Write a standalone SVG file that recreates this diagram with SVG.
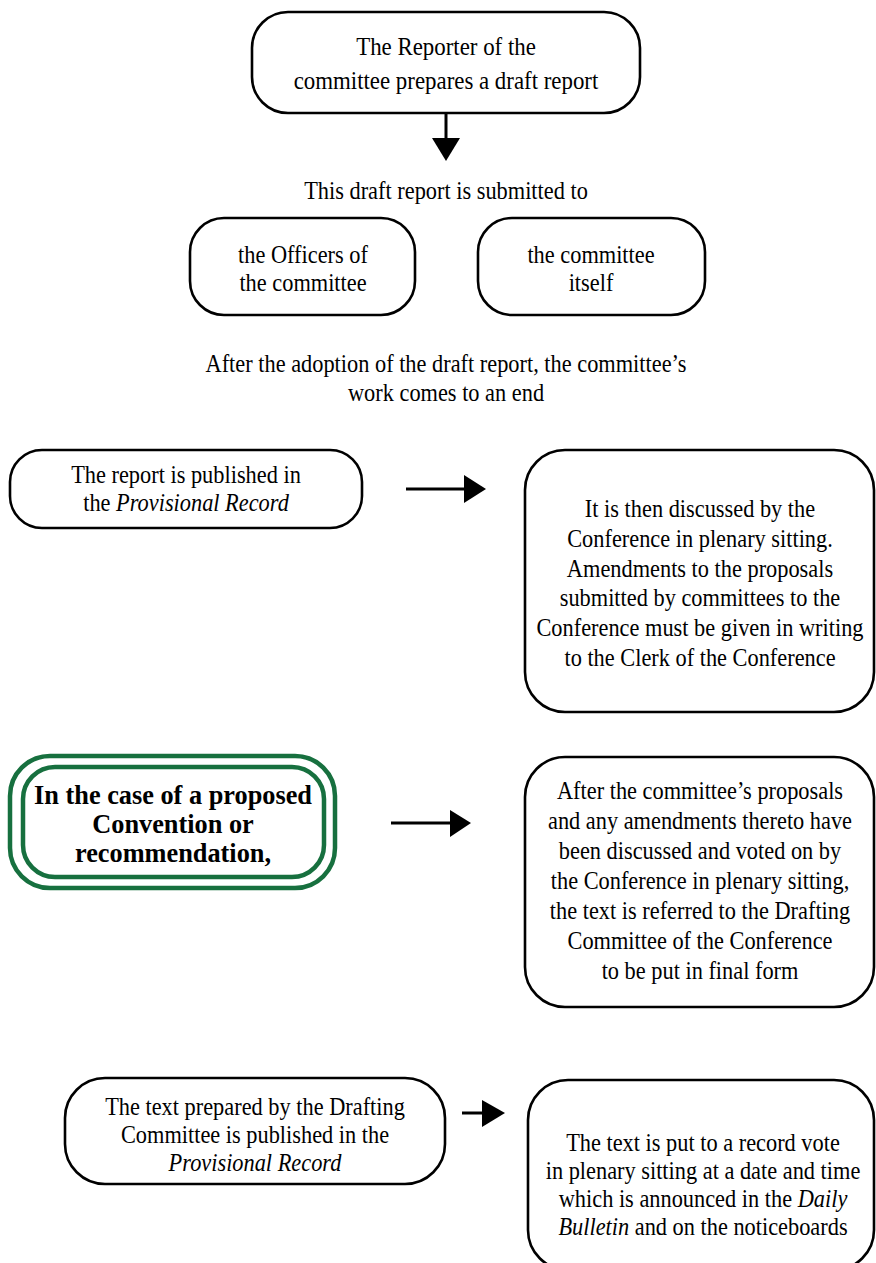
<svg xmlns="http://www.w3.org/2000/svg" width="876" height="1263" viewBox="0 0 876 1263">
<style>
.box{fill:#fff;stroke:#000;stroke-width:2.6}
.g{fill:none;stroke:#17703f;stroke-width:4.5}
.t{font-family:"Liberation Serif",serif;font-size:26px;fill:#000;text-anchor:middle}
.b{font-weight:bold;font-size:28px}
.i{font-style:italic}
.ln{stroke:#000;stroke-width:3;fill:none}
.hd{fill:#000}
</style>
<rect width="876" height="1263" fill="#fff"/>
<g id="connectors">
<line class="ln" x1="446" y1="113" x2="446" y2="140"/>
<polygon class="hd" points="432,138 460,138 446,161"/>
<line class="ln" x1="406" y1="489" x2="466" y2="489"/>
<polygon class="hd" points="464,475 464,503 486,489"/>
<line class="ln" x1="391" y1="823" x2="452" y2="823"/>
<polygon class="hd" points="450,810 450,837 471,823"/>
<line class="ln" x1="462" y1="1113" x2="484" y2="1113"/>
<polygon class="hd" points="482,1100 482,1127 505,1113"/>
</g>
<g id="n1">
<rect class="box" x="252" y="12" width="388" height="101" rx="36"/>
<g transform="translate(446 0) scale(0.88 1)"><text class="t" x="0" y="55">The Reporter of the</text><text class="t" x="0" y="89">committee prepares a draft report</text></g>
</g>
<g id="l1">
<g transform="translate(446 0) scale(0.86 1)"><text class="t" x="0" y="199">This draft report is submitted to</text></g>
</g>
<g id="n2">
<rect class="box" x="190" y="218" width="225" height="97" rx="34"/>
<g transform="translate(303 0) scale(0.86 1)"><text class="t" x="0" y="263">the Officers of</text><text class="t" x="0" y="291">the committee</text></g>
</g>
<g id="n3">
<rect class="box" x="478" y="218" width="227" height="97" rx="34"/>
<g transform="translate(591 0) scale(0.86 1)"><text class="t" x="0" y="263">the committee</text><text class="t" x="0" y="291">itself</text></g>
</g>
<g id="l2">
<g transform="translate(446 0) scale(0.86 1)"><text class="t" x="0" y="372">After the adoption of the draft report, the committee’s</text><text class="t" x="0" y="401">work comes to an end</text></g>
</g>
<g id="n4">
<rect class="box" x="10" y="450" width="352" height="78" rx="32"/>
<g transform="translate(186 0) scale(0.86 1)"><text class="t" x="0" y="483">The report is published in</text><text class="t" x="0" y="511">the <tspan class="i">Provisional Record</tspan></text></g>
</g>
<g id="n5">
<rect class="box" x="525" y="450" width="349" height="262" rx="40"/>
<g transform="translate(700 0) scale(0.86 1)">
<text class="t" x="0" y="517">It is then discussed by the</text>
<text class="t" x="0" y="547">Conference in plenary sitting.</text>
<text class="t" x="0" y="577">Amendments to the proposals</text>
<text class="t" x="0" y="606">submitted by committees to the</text>
<text class="t" x="0" y="636">Conference must be given in writing</text>
<text class="t" x="0" y="666">to the Clerk of the Conference</text>
</g>
</g>
<g id="n6">
<rect x="10" y="756" width="325" height="132" rx="40" fill="#fff"/>
<rect class="g" x="10" y="756" width="325" height="132" rx="40"/>
<rect class="g" x="23" y="767" width="301" height="110" rx="32"/>
<g transform="translate(173 0) scale(0.94 1)">
<text class="t b" x="0" y="804">In the case of a proposed</text>
<text class="t b" x="0" y="833">Convention or</text>
<text class="t b" x="0" y="862">recommendation,</text>
</g>
</g>
<g id="n7">
<rect class="box" x="525" y="757" width="349" height="250" rx="40"/>
<g transform="translate(700 0) scale(0.86 1)">
<text class="t" x="0" y="799">After the committee’s proposals</text>
<text class="t" x="0" y="829">and any amendments thereto have</text>
<text class="t" x="0" y="859">been discussed and voted on by</text>
<text class="t" x="0" y="889">the Conference in plenary sitting,</text>
<text class="t" x="0" y="919">the text is referred to the Drafting</text>
<text class="t" x="0" y="949">Committee of the Conference</text>
<text class="t" x="0" y="979">to be put in final form</text>
</g>
</g>
<g id="n8">
<rect class="box" x="65" y="1078" width="380" height="106" rx="40"/>
<g transform="translate(255 0) scale(0.86 1)">
<text class="t" x="0" y="1115">The text prepared by the Drafting</text>
<text class="t" x="0" y="1143">Committee is published in the</text>
<text class="t i" x="0" y="1171">Provisional Record</text>
</g>
</g>
<g id="n9">
<rect class="box" x="528" y="1080" width="346" height="190" rx="40"/>
<g transform="translate(703 0) scale(0.86 1)">
<text class="t" x="0" y="1151">The text is put to a record vote</text>
<text class="t" x="0" y="1179">in plenary sitting at a date and time</text>
<text class="t" x="0" y="1207">which is announced in the <tspan class="i">Daily</tspan></text>
<text class="t" x="0" y="1235"><tspan class="i">Bulletin</tspan> and on the noticeboards</text>
</g>
</g>
</svg>
